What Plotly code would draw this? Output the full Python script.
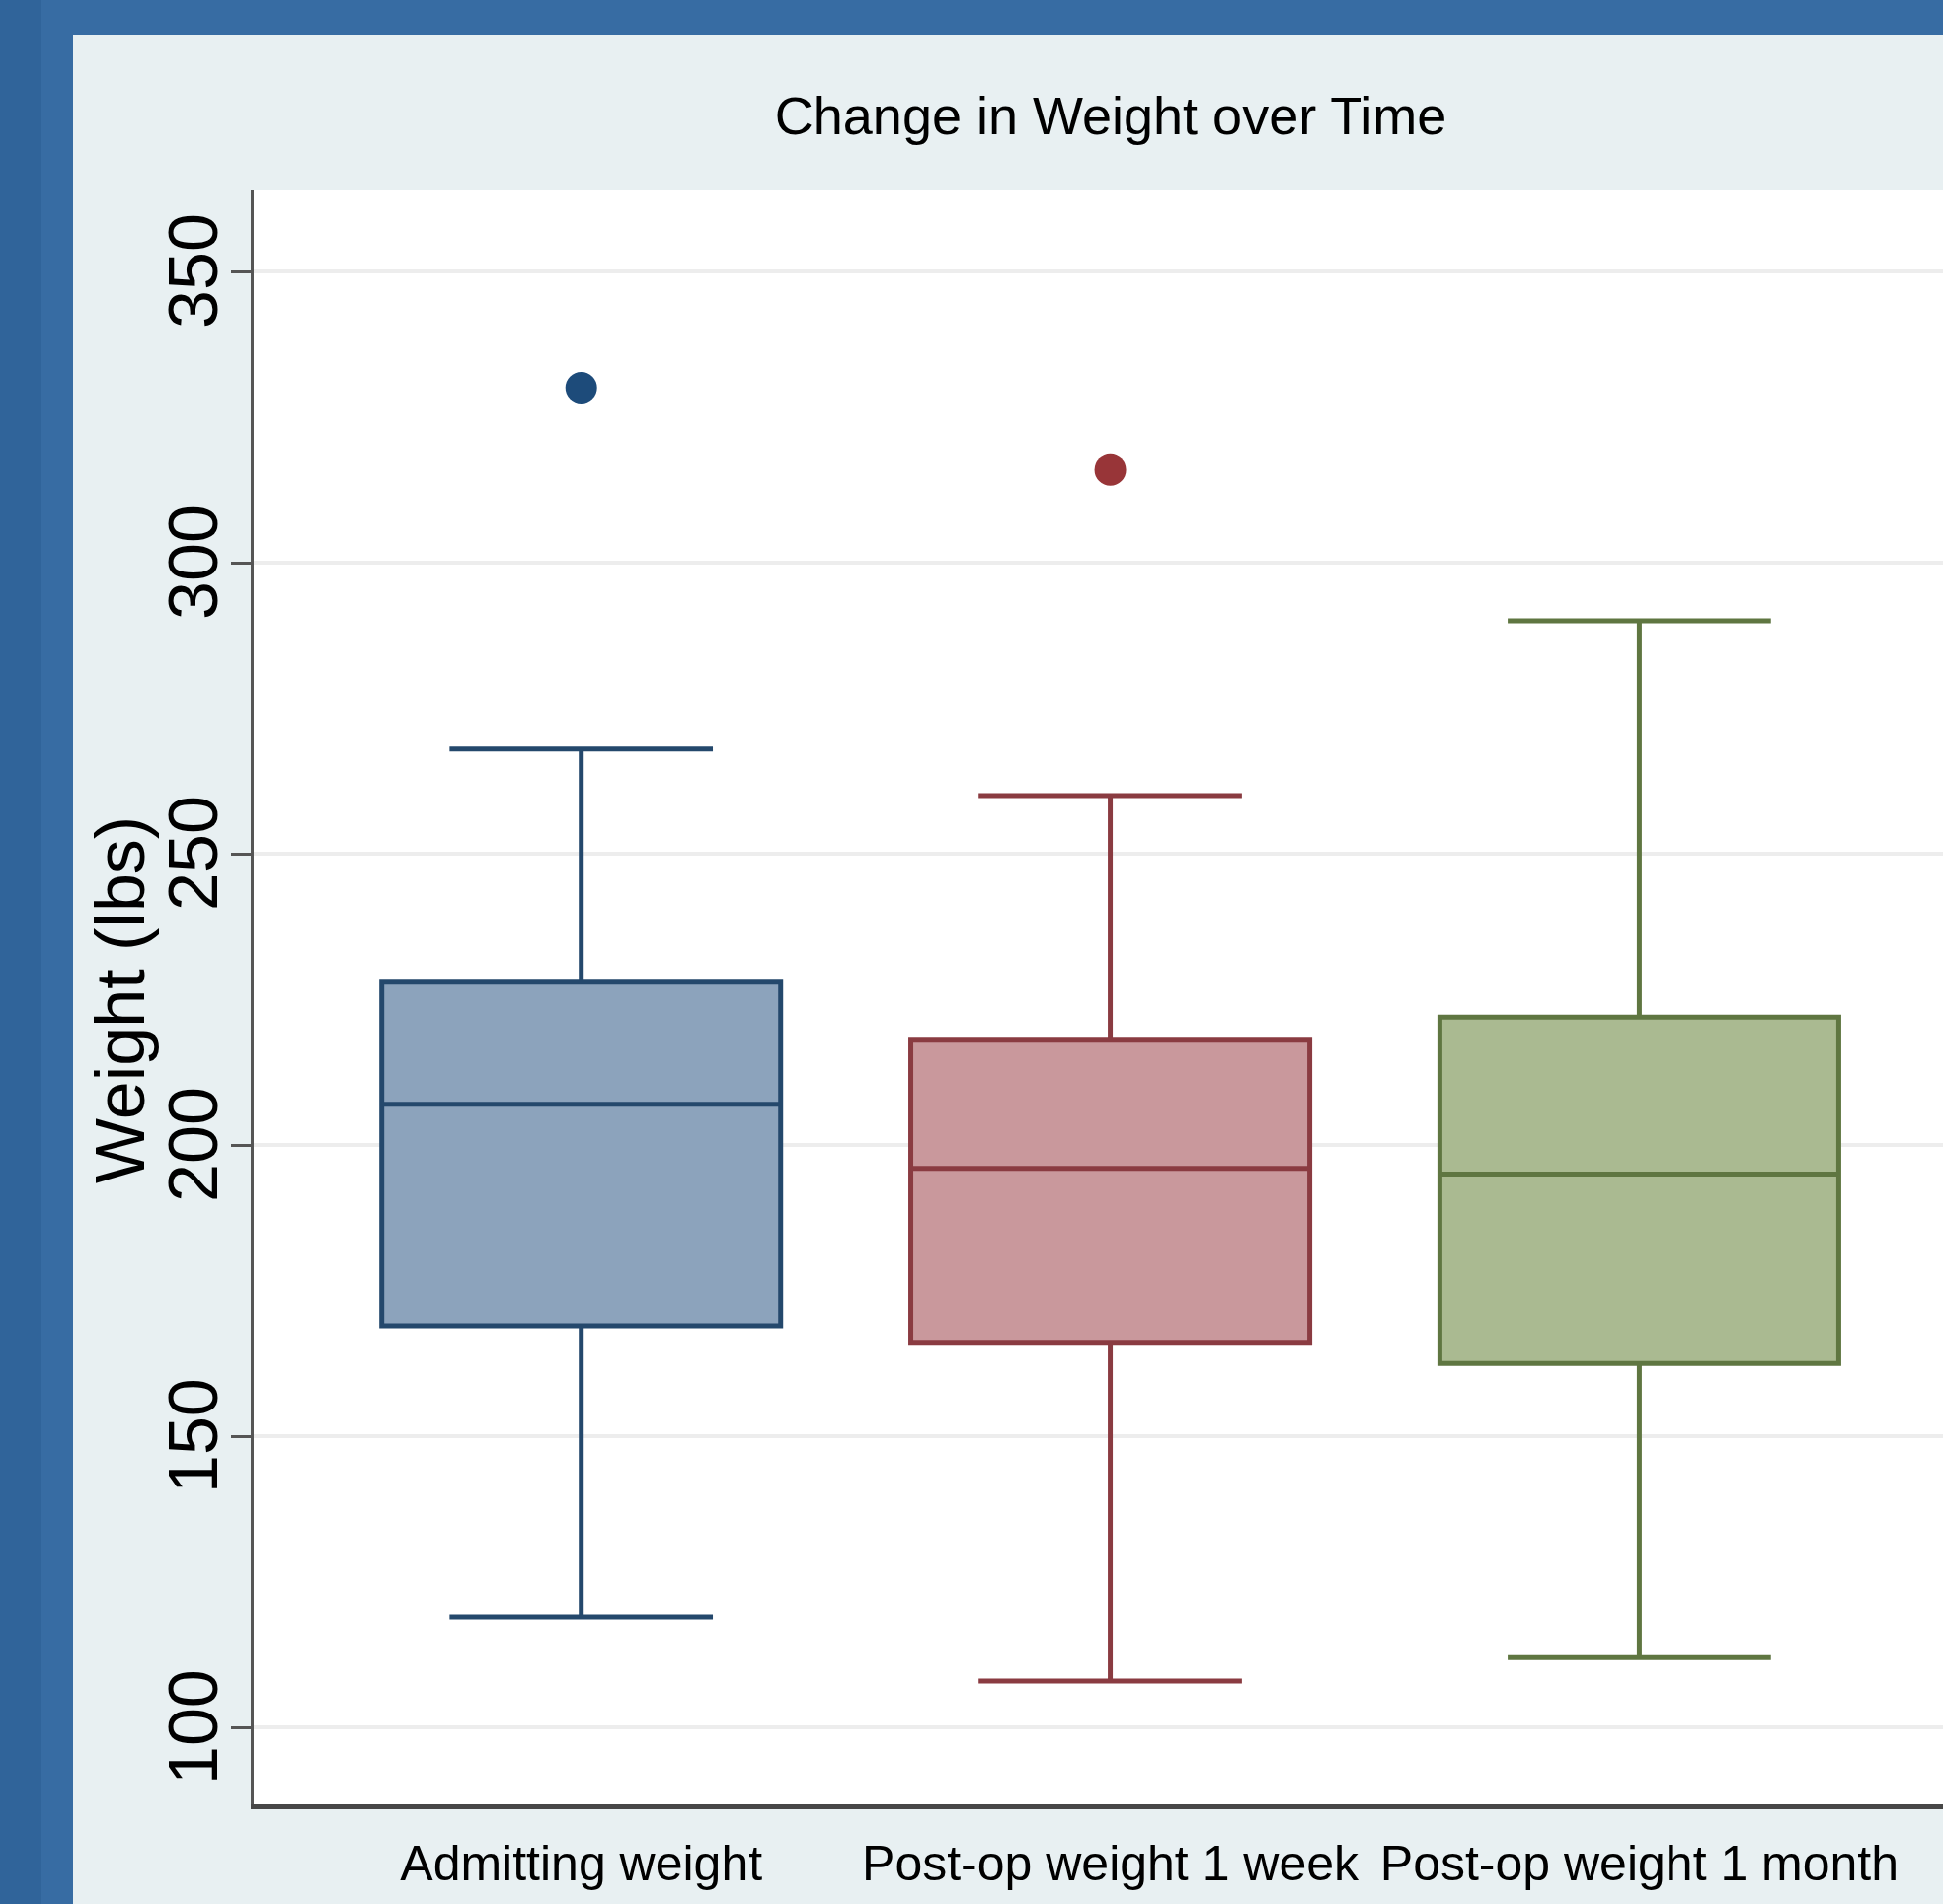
import plotly.graph_objects as go

# ---------------- data ----------------
categories = ["Admitting weight", "Post-op weight 1 week", "Post-op weight 1 month"]
lower_whisker = [119, 108, 112]
q1_vals = [169, 166, 162.5]
median_vals = [207, 196, 195]
q3_vals = [228, 218, 222]
upper_whisker = [268, 260, 290]
outlier_cats = ["Admitting weight", "Post-op weight 1 week"]
outlier_vals = [330, 316]
y_ticks = [100, 150, 200, 250, 300, 350]

# ---------------- styles ----------------
fill_colors = ["#8CA3BC", "#C9989C", "#AABA91"]
line_colors = ["#24486C", "#8A3B41", "#5F7641"]
point_colors = ["#1D4B7A", "#983538"]

W, H = 1968, 1929
PL, PR, PT, PB = 257, 1968, 193, 1828  # plot area pixel box
pw, ph = PR - PL, PB - PT


def px(x):
    return (x - PL) / pw


def py(y):
    return (PB - y) / ph


FONT = "Liberation Sans, Arial, Helvetica, sans-serif"

fig = go.Figure()
for i, cat in enumerate(categories):
    fig.add_trace(go.Box(
        x=[cat], q1=[q1_vals[i]], median=[median_vals[i]], q3=[q3_vals[i]],
        lowerfence=[lower_whisker[i]], upperfence=[upper_whisker[i]],
        fillcolor=fill_colors[i], line=dict(color=line_colors[i], width=5),
        width=0.754, whiskerwidth=0.66, boxpoints=False, showlegend=False,
    ))

for j, cat in enumerate(outlier_cats):
    fig.add_trace(go.Scatter(
        x=[cat], y=[outlier_vals[j]], mode="markers",
        marker=dict(size=32, color=point_colors[j]), showlegend=False,
    ))

shapes = [
    dict(type="rect", xref="paper", yref="paper", x0=px(0), x1=px(W), y0=py(35), y1=py(0),
         fillcolor="#376CA3", line=dict(width=0), layer="above"),
    dict(type="rect", xref="paper", yref="paper", x0=px(0), x1=px(74), y0=py(H), y1=py(0),
         fillcolor="#376CA3", line=dict(width=0), layer="above"),
    dict(type="rect", xref="paper", yref="paper", x0=px(0), x1=px(42), y0=py(H), y1=py(0),
         fillcolor="#30649A", line=dict(width=0), layer="above"),
]

fig.update_layout(
    width=W, height=H,
    margin=dict(l=PL, r=W - PR, t=PT, b=H - PB, pad=0, autoexpand=False),
    paper_bgcolor="#E8F0F2",
    plot_bgcolor="white",
    boxmode="overlay",
    shapes=shapes,
    title=dict(
        text="Change in Weight over Time",
        font=dict(family=FONT, size=54, color="black"),
        xref="paper", x=px(1125), xanchor="center",
        yref="container", y=1 - 117 / H, yanchor="middle",
        automargin=False,
    ),
    xaxis=dict(
        type="category", categoryorder="array", categoryarray=categories,
        range=[-0.619, 2.574], showgrid=False, zeroline=False,
        showline=True, linecolor="#474747", linewidth=5,
        ticks="", tickangle=0, automargin=False, ticklabelstandoff=12,
        tickfont=dict(family=FONT, size=50, color="black"),
    ),
    yaxis=dict(
        range=[86.8, 363.9], tickvals=y_ticks, ticktext=[str(v) for v in y_ticks],
        ticks="outside", ticklen=20, tickwidth=3, tickcolor="#555555",
        showline=True, linecolor="#555555", linewidth=3,
        showgrid=True, gridcolor="#EDEDED", gridwidth=4, zeroline=False,
        tickangle=-90, automargin=False, ticklabelshift=10, ticklabelstandoff=-14,
        tickfont=dict(family=FONT, size=70, color="black"),
    ),
    annotations=[dict(
        text="Weight (lbs)", xref="paper", yref="paper",
        x=px(122), y=py(1013), xanchor="center", yanchor="middle",
        textangle=-90, showarrow=False,
        font=dict(family=FONT, size=70, color="black"),
    )],
)

fig.write_html("out.html", post_script="document.body.style.margin='0';",
               config={"displayModeBar": False})
